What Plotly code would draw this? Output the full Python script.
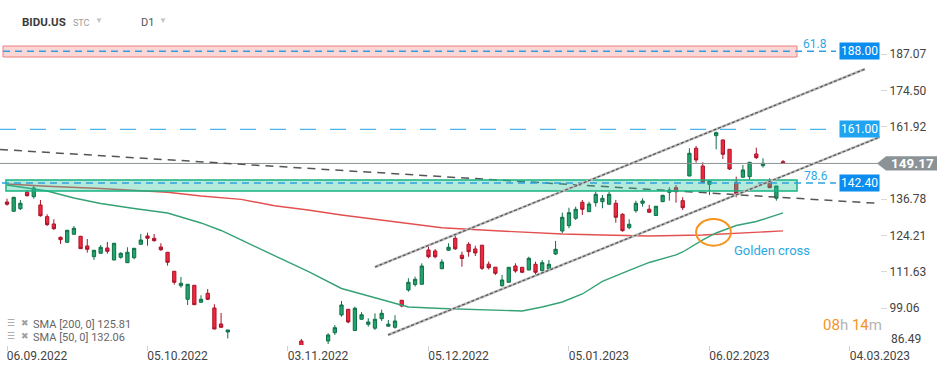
import plotly.graph_objects as go

# ---------------- data ----------------
date_tick_bars = [0, 21, 42, 63, 84, 105, 126]
date_tick_labels = ["06.09.2022", "05.10.2022", "03.11.2022", "05.12.2022",
                    "05.01.2023", "06.02.2023", "04.03.2023"]

price_ticks = [187.07, 174.50, 161.92, 136.78, 124.21, 111.63, 99.06]
price_tick_labels = ["187.07", "174.50", "161.92", "136.78", "124.21", "111.63", "99.06"]

open_ = [135.83, 132.61, 133.51, 139.19, 137.66, 134.79, 130.74, 128.21, 123.60, 121.87,
         124.64, 123.95, 120.59, 116.88, 118.06, 119.90, 115.74, 116.68, 114.81, 116.54,
         121.18, 124.05, 123.26, 120.24, 118.41, 111.83, 106.84, 102.13, 106.98, 101.09,
         104.21, 99.12, 93.58, 90.81, 80.5, 77.0, 75.0, 76.0, 74.5, 75.0,
         74.5, 78.0, 77.5, 81.0, 87.69, 85.0, 83.5, 84.5, 87.69, 90.56,
         96.70, 98.67, 91.33, 95.21, 93.48, 92.13, 95.42, 92.82, 92.44, 101.79,
         105.35, 107.26, 107.33, 119.20, 118.86, 112.73, 119.10, 123.26, 117.40, 121.18,
         119.55, 120.87, 114.29, 113.25, 106.84, 108.02, 113.66, 113.21, 112.28, 114.25,
         112.04, 112.52, 117.82, 125.78, 127.62, 130.18, 135.72, 132.47, 135.59, 135.93,
         135.03, 135.38, 131.57, 126.93, 132.81, 135.38, 133.33, 131.15, 135.93, 139.19,
         140.78, 136.28, 144.83, 154.42, 148.29, 141.96, 158.79, 157.30, 154.08, 142.65,
         144.38, 144.59, 152.45, 148.40, 143.20, 137.11, 149.78]
high = [136.97, 137.56, 136.52, 139.98, 141.37, 136.52, 131.57, 129.84, 123.88, 126.13,
        127.52, 124.05, 123.01, 119.20, 120.94, 121.98, 121.63, 118.41, 120.14, 119.90,
        124.74, 125.20, 124.74, 121.53, 118.51, 111.93, 109.85, 107.43, 107.08, 103.52,
        105.70, 100.40, 97.39, 91.60, 81.5, 78.5, 77.0, 77.5, 76.0, 76.5,
        78.0, 80.0, 80.5, 85.0, 88.38, 85.8, 85.5, 86.0, 90.36, 93.23,
        101.54, 98.77, 99.57, 97.67, 95.55, 97.28, 98.53, 94.96, 96.63, 101.79,
        109.41, 109.96, 114.60, 120.49, 119.55, 115.98, 121.53, 124.23, 118.62, 121.91,
        120.66, 120.94, 115.22, 113.32, 110.55, 113.21, 114.60, 113.32, 116.88, 115.15,
        115.74, 115.74, 122.32, 132.12, 133.85, 134.20, 136.52, 135.93, 139.39, 138.25,
        139.39, 136.52, 131.91, 129.84, 136.28, 137.11, 134.79, 134.44, 138.25, 140.92,
        141.71, 137.46, 154.42, 155.22, 149.58, 143.20, 160.17, 157.47, 154.18, 144.59,
        148.64, 149.68, 154.63, 150.96, 144.03, 141.37, 150.37]
low = [134.55, 132.47, 133.06, 137.66, 136.97, 130.74, 127.52, 126.13, 121.28, 121.80,
       124.57, 119.55, 118.27, 115.74, 117.99, 117.92, 115.64, 116.19, 114.70, 115.98,
       121.11, 120.70, 122.08, 118.86, 113.77, 107.19, 106.15, 100.16, 100.16, 101.02,
       101.89, 91.68, 92.19, 88.56, 75.5, 73.5, 73.5, 74.0, 73.0, 73.5,
       74.0, 76.5, 76.5, 80.5, 85.0, 82.5, 82.0, 83.0, 86.65, 89.77,
       96.11, 93.82, 91.26, 95.14, 92.64, 91.50, 94.62, 92.64, 91.95, 99.36,
       104.76, 106.50, 107.26, 116.33, 116.33, 112.52, 118.86, 119.20, 113.42, 116.88,
       117.13, 112.28, 112.45, 110.55, 106.50, 107.95, 111.34, 111.24, 112.17, 110.20,
       111.69, 112.45, 117.47, 124.99, 126.72, 129.59, 131.33, 132.43, 134.20, 133.65,
       134.96, 128.66, 125.54, 126.37, 132.12, 134.20, 132.19, 131.08, 135.83, 136.28,
       135.59, 133.06, 144.73, 149.44, 142.30, 138.25, 154.08, 150.72, 146.91, 137.46,
       144.31, 143.45, 150.72, 147.71, 140.68, 136.28, 149.10]
close = [135.03, 137.46, 135.38, 138.01, 140.68, 131.08, 127.97, 126.58, 122.77, 126.03,
         126.72, 119.66, 119.45, 119.10, 120.14, 118.76, 121.53, 118.06, 118.41, 119.79,
         122.67, 123.26, 122.43, 119.31, 114.95, 108.02, 107.67, 107.33, 100.26, 102.13,
         102.13, 91.85, 92.44, 91.50, 76.5, 74.5, 76.0, 74.5, 75.5, 74.0,
         77.5, 77.0, 80.0, 84.5, 85.8, 83.5, 84.5, 85.5, 89.77, 92.30,
         100.16, 94.27, 99.02, 96.77, 94.27, 95.21, 97.28, 93.51, 94.62, 99.81,
         108.02, 109.06, 113.66, 116.88, 116.88, 115.05, 120.14, 119.62, 116.26, 118.62,
         118.17, 112.87, 113.08, 111.14, 108.82, 113.21, 111.93, 111.48, 116.33, 111.48,
         114.81, 114.25, 119.45, 130.53, 132.12, 133.30, 133.30, 135.13, 138.49, 137.11,
         138.49, 130.53, 125.89, 128.11, 135.38, 136.17, 132.26, 134.34, 138.15, 139.98,
         139.39, 133.85, 152.69, 150.37, 142.65, 143.10, 159.83, 152.35, 147.26, 138.84,
         146.91, 149.58, 151.17, 149.23, 140.78, 141.37, 149.17]

sma200_bars = [0, 6, 14, 19, 24, 29, 35, 40, 45, 50, 55, 60, 65, 71, 77, 83, 89, 96, 104, 109, 116]
sma200 = [142.06, 141.26, 140.50, 139.74, 139.19, 137.91, 136.73, 134.51, 133.06, 131.33,
          129.84, 128.45, 126.89, 126.10, 125.40, 124.75, 124.40, 124.05, 124.40, 124.99, 125.81]

sma50_bars = [0, 6, 10, 14, 19, 24, 29, 32, 35, 40, 45, 50, 55, 60, 65, 71, 77, 80, 83, 86,
              89, 93, 96, 100, 101, 104, 106, 109, 112, 116]
sma50 = [141.71, 139.64, 137.21, 135.31, 133.58, 132.02, 128.56, 125.96, 122.67, 117.13,
         111.76, 105.87, 102.58, 99.47, 98.95, 98.43, 98.08, 99.47, 101.20, 103.97,
         108.30, 112.11, 114.88, 117.48, 118.51, 122.67, 125.09, 127.69, 129.07, 132.06]

last_price = 149.17
level_188 = 188.00
level_161 = 161.00
level_142 = 142.40
band_red = [186.03, 189.84]
band_teal = [139.63, 143.44]
fib_labels = ["61.8", "78.6"]
sma_legend = ["SMA [200, 0] 125.81", "SMA [50, 0] 132.06"]

# trend lines: (bar0, price0, bar1, price1)
channel_upper = (55.0, 113.32, 128.25, 181.87)
channel_lower = (56.95, 89.77, 130.49, 158.33)
down_line = (-1.05, 154.01, 130.49, 135.31)
golden_cross_box = (103.0, 120.69, 108.2, 129.94)

# ---------------- layout helpers ----------------
PLOT_W, PLOT_H = 880, 345
def px(x):
    return x / PLOT_W
def py(y):
    return (PLOT_H - y) / PLOT_H

FONT = "Roboto"
bars = list(range(len(open_)))

fig = go.Figure()
fig.add_trace(go.Scatter(x=sma200_bars, y=sma200, mode="lines",
                         line=dict(color="#e2504f", width=1.4), hoverinfo="skip"))
fig.add_trace(go.Scatter(x=sma50_bars, y=sma50, mode="lines",
                         line=dict(color="#35a276", width=1.4), hoverinfo="skip"))
fig.add_trace(go.Candlestick(
    x=bars, open=open_, high=high, low=low, close=close,
    increasing=dict(fillcolor="#22a46c", line=dict(color="#0f7048", width=1)),
    decreasing=dict(fillcolor="#f2283d", line=dict(color="#a8142a", width=1)),
    whiskerwidth=0, hoverinfo="skip"))

shapes = []
shapes.append(dict(type="rect", xref="paper", yref="y", x0=px(3), x1=px(797),
                   y0=band_red[0], y1=band_red[1], fillcolor="rgba(248,180,180,0.55)",
                   line=dict(color="#ef7f7f", width=1)))
shapes.append(dict(type="line", xref="paper", yref="y", x0=px(3), x1=px(836),
                   y0=level_188, y1=level_188, line=dict(color="#2f9fe4", width=1.5, dash="7px,5px")))
shapes.append(dict(type="line", xref="paper", yref="y", x0=0, x1=px(836),
                   y0=level_161, y1=level_161, line=dict(color="#4db3ec", width=1.2, dash="16px,14px")))
shapes.append(dict(type="line", xref="paper", yref="y", x0=0, x1=1,
                   y0=last_price, y1=last_price, line=dict(color="#8d9295", width=1)))
shapes.append(dict(type="line", xref="x", yref="y", x0=down_line[0], y0=down_line[1],
                   x1=down_line[2], y1=down_line[3], line=dict(color="#555555", width=1.5, dash="8px,6px")))
shapes.append(dict(type="rect", xref="paper", yref="y", x0=px(6), x1=px(797),
                   y0=band_teal[0], y1=band_teal[1], fillcolor="rgba(40,195,150,0.35)",
                   line=dict(color="#17b384", width=1.5)))
shapes.append(dict(type="line", xref="paper", yref="y", x0=px(2), x1=px(836),
                   y0=level_142, y1=level_142, line=dict(color="#2aa2de", width=1.5, dash="7px,5px")))
for ln in (channel_upper, channel_lower):
    shapes.append(dict(type="line", xref="x", yref="y", x0=ln[0], y0=ln[1], x1=ln[2], y1=ln[3],
                       line=dict(color="#bdbdbd", width=2.5)))
    shapes.append(dict(type="line", xref="x", yref="y", x0=ln[0], y0=ln[1], x1=ln[2], y1=ln[3],
                       line=dict(color="#555555", width=1.2, dash="3px,2px")))
shapes.append(dict(type="circle", xref="x", yref="y", x0=golden_cross_box[0], y0=golden_cross_box[1],
                   x1=golden_cross_box[2], y1=golden_cross_box[3], line=dict(color="#f7941d", width=2)))
d = 2.45
shapes.append(dict(type="path", xref="paper", yref="y",
                   path=f"M {px(877)},{last_price} L {px(886)},{last_price + d} L {px(937)},{last_price + d} "
                        f"L {px(937)},{last_price - d} L {px(886)},{last_price - d} Z",
                   fillcolor="#8b9396", line=dict(width=0)))

ann = []
def text(x, y, s, size=12, color="#444", xanchor="left", bold=False, xref="paper", yref="paper", **kw):
    if bold:
        s = f"<b>{s}</b>"
    ann.append(dict(x=x, y=y, xref=xref, yref=yref, text=s, showarrow=False, xanchor=xanchor,
                    yanchor="middle", font=dict(family=FONT, size=size, color=color), **kw))

text(px(20), py(22), "BIDU.US", size=11.5, color="#3b3b3b", bold=True)
text(px(71), py(23), "STC", size=9, color="#9c9c9c")
text(px(93), py(21), "▼", size=8, color="#c4c4c4")
text(px(139), py(22), "D1", size=11, color="#555555")
text(px(157), py(21), "▼", size=8, color="#c4c4c4")

for lvl, col in ((level_188, "#0b8cef"), (level_161, "#1ea4f0"), (level_142, "#0b8cef")):
    ann.append(dict(x=1, y=lvl, xref="paper", yref="y", text=f"{lvl:.2f}", showarrow=False,
                    xanchor="right", yanchor="middle", bgcolor=col, borderpad=1,
                    font=dict(family=FONT, size=12, color="white")))
text(px(936), last_price, f"{last_price:.2f}", size=13.5, color="white", xanchor="right", bold=True, yref="y")

text(px(801), py(44), fib_labels[0], size=12, color="#2ea8e6")
text(px(802), py(176), fib_labels[1], size=12, color="#2ea8e6")
text(px(889), py(339), "86.49", size=12, color="#444")

text(golden_cross_box[2] + 0.1, 118.86, "Golden cross", size=13, color="#2aa8e2", xref="x", yref="y")

text(px(5), py(323), "☰", size=9, color="#a0a0a0")
text(px(19), py(323), "✖", size=9, color="#a0a0a0")
text(px(5), py(336), "☰", size=9, color="#a0a0a0")
text(px(19), py(336), "✖", size=9, color="#a0a0a0")
text(px(31), py(324), sma_legend[0], size=11, color="#666666")
text(px(31), py(337), sma_legend[1], size=11, color="#666666")

text(px(821), py(325),
     '<span style="color:#f7941d">08</span><span style="color:#b4b4b4">h</span> '
     '<span style="color:#f7941d">14</span><span style="color:#b4b4b4">m</span>',
     size=15)

fig.update_layout(
    width=949, height=370,
    margin=dict(l=0, r=69, t=0, b=25),
    paper_bgcolor="white", plot_bgcolor="white",
    showlegend=False, boxgap=0.3,
    shapes=shapes, annotations=ann,
    xaxis=dict(range=[-1.046, 130.49], tickmode="array", tickvals=date_tick_bars,
               ticktext=date_tick_labels, showgrid=False, zeroline=False, showline=False,
               ticks="outside", ticklen=5, tickcolor="#d0d0d0", ticklabelshift=30,
               ticklabelstandoff=-5,
               tickfont=dict(family=FONT, size=12, color="#444"),
               rangeslider=dict(visible=False), fixedrange=True),
    yaxis=dict(side="right", range=[86.3, 205.77], tickmode="array", tickvals=price_ticks,
               ticktext=price_tick_labels, showgrid=False, zeroline=False, showline=False,
               ticks="outside", ticklen=6, tickcolor="#d8d8d8",
               tickfont=dict(family=FONT, size=12, color="#444"), fixedrange=True),
)

fig.write_html("out.html", config={"displayModeBar": False},
               post_script="document.body.style.margin='0px';document.body.style.overflow='hidden';")
